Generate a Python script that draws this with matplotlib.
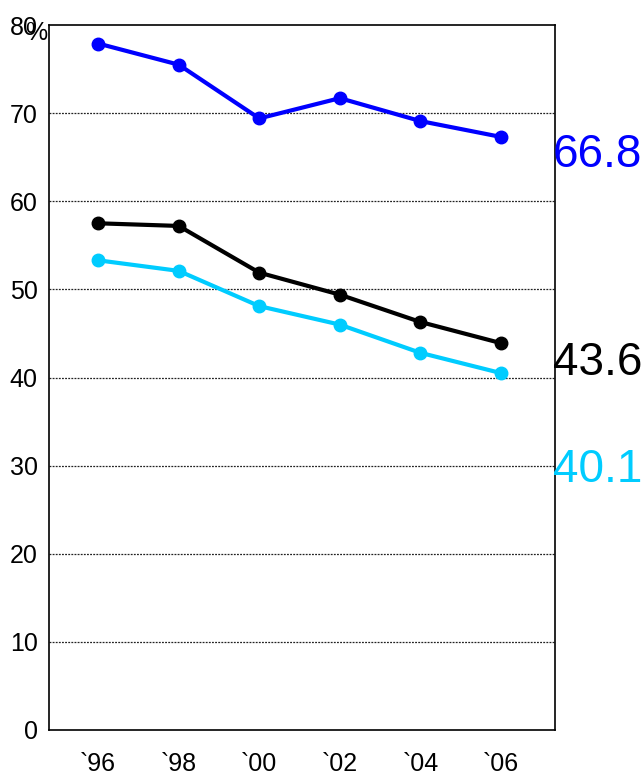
import matplotlib.pyplot as plt

years = ['`96', '`98', '`00', '`02', '`04', '`06']
blue_vals = [77.9, 75.5, 69.4, 71.7, 69.1, 67.3]
black_vals = [57.5, 57.2, 51.9, 49.4, 46.3, 43.9]
cyan_vals = [53.3, 52.1, 48.1, 46.0, 42.8, 40.5]
end_labels = ['66.8', '43.6', '40.1']
end_label_y = [65.2, 41.6, 29.5]

plt.rcParams['font.family'] = ['Liberation Sans', 'DejaVu Sans']

fig = plt.figure(figsize=(6.41, 7.77), dpi=100)
ax = fig.add_axes([0.0764, 0.0605, 0.7894, 0.9073])

x = list(range(len(years)))
colors = ['#0000ff', '#000000', '#00ccff']
for vals, c in zip([blue_vals, black_vals, cyan_vals], colors):
    ax.plot(x, vals, color=c, lw=3, marker='o', ms=9, zorder=3)

ax.set_xlim(-0.61, 5.67)
ax.set_ylim(0, 80)
ax.set_yticks(range(0, 90, 10))
ax.set_xticks(x)
ax.set_xticklabels(years)
ax.tick_params(length=0, labelsize=18)
ax.tick_params(axis='x', pad=16)
ax.tick_params(axis='y', pad=8)

for yv in range(10, 80, 10):
    ax.axhline(yv, color='#222222', lw=0.9, ls=(0, (1.5, 1)), zorder=1)

for sp in ax.spines.values():
    sp.set_linewidth(1.2)

ax.text(0.056, 0.957, '%', transform=fig.transFigure, fontsize=18, ha='center', va='center')

for lab, yv, c in zip(end_labels, end_label_y, colors):
    ax.text(0.996, yv / 80, lab, transform=ax.transAxes, fontsize=33, color=c,
            ha='left', va='center', clip_on=False)

fig.savefig('out.png', dpi=100)
